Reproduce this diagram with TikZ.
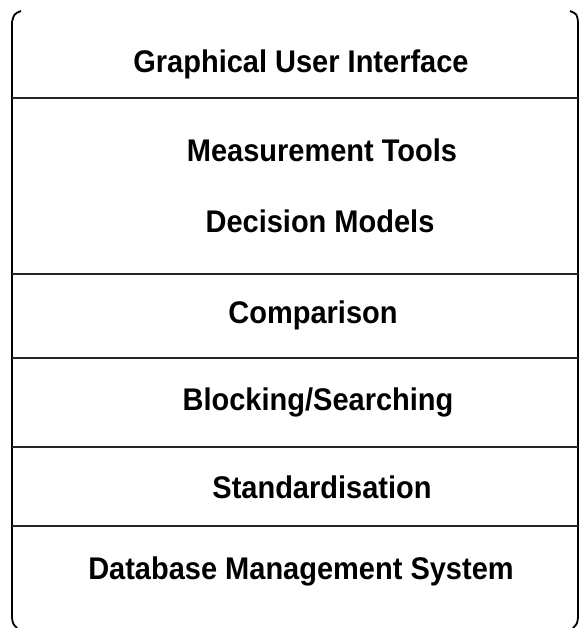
\documentclass[tikz,border=0pt]{standalone}
\usepackage{fontspec}
\setmainfont{Liberation Sans}
\begin{document}
\begin{tikzpicture}[x=1pt,y=-1pt,
  frame/.style={line width=1.8pt,black},
  sep/.style={line width=1.4pt,black!85},
  lbl/.style={font=\bfseries\fontsize{29}{34}\selectfont,inner sep=0pt,anchor=center,yscale=1.08}]
\useasboundingbox (0,0) rectangle (582,628);
% outer frame (sides with curled corners)
\draw[frame] (21,11) .. controls (14,14) .. (12,22) -- (12,618) .. controls (13,624) .. (17,628);
\draw[frame] (570,11) .. controls (577,14) .. (578,22) -- (578,618) .. controls (577,624) .. (573,628);
% separators
\coordinate (l1) at (12,98);  \coordinate (r1) at (578,98);
\coordinate (l2) at (12,274); \coordinate (r2) at (578,274);
\coordinate (l3) at (12,358); \coordinate (r3) at (578,358);
\coordinate (l4) at (12,447); \coordinate (r4) at (578,447);
\coordinate (l5) at (12,526); \coordinate (r5) at (578,526);
\foreach \i in {1,...,5} \draw[sep] (l\i) -- (r\i);
% labels
\node[lbl] (gui)  at (301,64)  {Graphical User Interface};
\node[lbl] (meas) at (322,150) {Measurement Tools};
\node[lbl] (dec)  at (320,221) {Decision Models};
\node[lbl] (comp) at (313,315) {Comparison};
\node[lbl] (blk)  at (318,402) {Blocking/Searching};
\node[lbl] (std)  at (322,487) {Standardisation};
\node[lbl] (dbms) at (301,571) {Database Management System};
\end{tikzpicture}
\end{document}
